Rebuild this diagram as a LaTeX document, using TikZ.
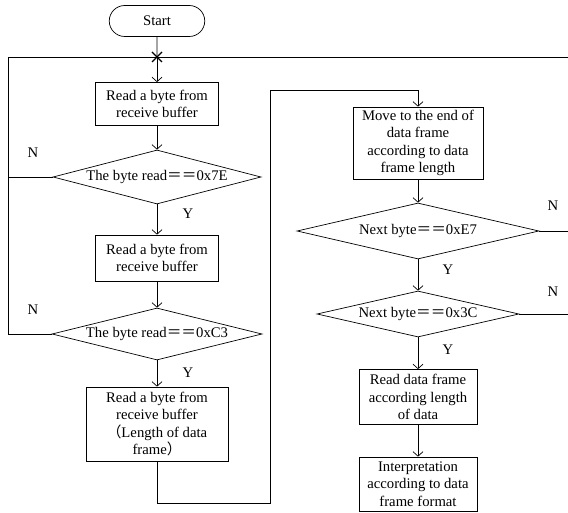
\documentclass[tikz,border=0pt]{standalone}
\usepackage{fontspec}
\setmainfont{Liberation Serif}
\newfontfamily\cjk{Noto Sans CJK SC}
\usetikzlibrary{arrows.meta,shapes.geometric,shapes.misc}

\tikzset{every picture/.style={line width=0.7pt}}
\tikzset{
  procbox/.style={draw, rectangle, inner sep=0.75pt, align=center},
  decision/.style={draw, diamond, aspect=4, inner sep=0pt},
  terminal/.style={draw, rounded rectangle, inner sep=0.75pt},
  flow/.style={-{Straight Barb[length=4.5pt,width=10pt]}},
  yesno/.style={inner sep=0.75pt}
}
\newcommand{\eqeq}{{\cjk ＝＝}}

\begin{document}
\begin{tikzpicture}[x=1pt,y=1pt,yscale=-1,xscale=1,font=\fontsize{14.7}{17.3}\selectfont]
\useasboundingbox (0,0) rectangle (568,513);

%Shape: Terminal [id:start]
\node[terminal, minimum width=97pt, minimum height=31pt] (start) at (157,21) {Start};
%Shape: Rectangle [id:rd1]
\node[procbox, minimum width=123pt, minimum height=43pt] (rd1) at (157,104) {Read a byte from\\receive buffer};
%Shape: Diamond [id:chk1]
\node[decision, minimum width=208pt, minimum height=54pt] (chk1) at (157,177) {The byte read\eqeq0x7E};
%Shape: Rectangle [id:rd2]
\node[procbox, minimum width=123pt, minimum height=46pt] (rd2) at (157,258) {Read a byte from\\receive buffer};
%Shape: Diamond [id:chk2]
\node[decision, minimum width=210pt, minimum height=52pt] (chk2) at (157,334) {The byte read\eqeq0xC3};
%Shape: Rectangle [id:rd3]
\node[procbox, minimum width=142pt, minimum height=74pt] (rd3) at (157,424) {Read a byte from\\receive buffer\\{\cjk （}Length of data\\frame{\cjk ）}};
%Shape: Rectangle [id:skip]
\node[procbox, minimum width=130pt, minimum height=72pt] (skip) at (418,143) {Move to the end of\\data frame\\according to data\\frame length};
%Shape: Diamond [id:chk3]
\node[decision, minimum width=242pt, minimum height=56pt] (chk3) at (418,231) {Next byte\eqeq0xE7};
%Shape: Diamond [id:chk4]
\node[decision, minimum width=202pt, minimum height=46pt] (chk4) at (418,314) {Next byte\eqeq0x3C};
%Shape: Rectangle [id:rdframe]
\node[procbox, minimum width=118pt, minimum height=55pt] (rdframe) at (418,397) {Read data frame\\according length\\of data};
%Shape: Rectangle [id:interp]
\node[procbox, minimum width=118pt, minimum height=54pt] (interp) at (418,484) {Interpretation\\according to data\\frame format};

% Corner points of the loop lines
\coordinate (join) at (157,57);
\coordinate (topleft) at (8,57);
\coordinate (topright) at (568,57);
\coordinate (jumpA) at (270,503);
\coordinate (jumpB) at (270,90);
\coordinate (outE7) at (568,231);
\coordinate (out3C) at (568,314);

%Straight Lines
\draw (start) -- (join);
\draw[flow] (join) -- (rd1);
\draw (topleft) -- (topright);
%Cross mark
\draw[line width=1.3pt] ([shift={(-5,-5)}]join) -- ([shift={(5,5)}]join);
\draw[line width=1.3pt] ([shift={(-5,5)}]join) -- ([shift={(5,-5)}]join);

%Straight Lines
\draw[flow] (rd1) -- (chk1);
\draw[flow] (chk1) -- (rd2);
\draw[flow] (rd2) -- (chk2);
\draw[flow] (chk2) -- (rd3);
\draw (chk1.west) -| (topleft);
\draw (chk2.west) -| (topleft);
\draw[flow] (rd3.south) |- (jumpA) -- (jumpB) -| (skip.north);
\draw[flow] (skip) -- (chk3);
\draw[flow] (chk3) -- (chk4);
\draw[flow] (chk4) -- (rdframe);
\draw[flow] (rdframe) -- (interp);
\draw (chk3.east) -- (outE7);
\draw (chk4.east) -- (out3C);

% Text Node
\node[yesno] (n1) at (33,153) {N};
% Text Node
\node[yesno] (n2) at (33,310) {N};
% Text Node
\node[yesno] (n3) at (553,206) {N};
% Text Node
\node[yesno] (n4) at (553,292) {N};
% Text Node
\node[yesno] (y1) at (188,214) {Y};
% Text Node
\node[yesno] (y2) at (188,373) {Y};
% Text Node
\node[yesno] (y3) at (448,270) {Y};
% Text Node
\node[yesno] (y4) at (448,350) {Y};
\end{tikzpicture}
\end{document}
